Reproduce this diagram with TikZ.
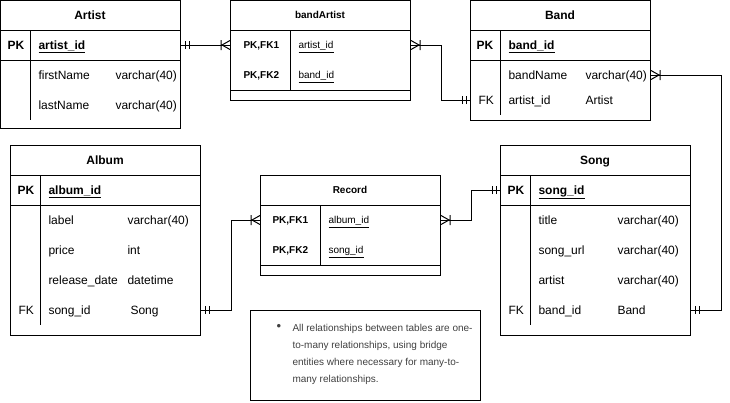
\documentclass[tikz,border=0pt]{standalone}
\usepackage{fontspec}
\setmainfont{Liberation Sans}
\tikzset{
  entity/.style={draw, anchor=north west, inner sep=0pt},
  head/.style={inner sep=0pt, text height=10pt, text depth=2pt, font=\fontsize{12}{14}\selectfont\bfseries},
  smallhead/.style={inner sep=0pt, text height=8.5pt, text depth=1.5pt, font=\fontsize{10}{12}\selectfont\bfseries},
  field/.style={anchor=west, inner sep=0pt, text height=10pt, text depth=2pt, font=\fontsize{12}{14}\selectfont},
  smallfield/.style={field, text height=8.5pt, text depth=1.5pt, font=\fontsize{10}{12}\selectfont},
  pics/erone/.style={code={\draw (4,-4) -- (4,4) (8,-4) -- (8,4);}},
  pics/ermany/.style={code={\draw (9,-5) -- (9,5) (0,-4.5) -- (8,0) -- (0,4.5);}}
}
\begin{document}
\begin{tikzpicture}[x=1pt, y=-1pt, line width=1pt]
    \useasboundingbox (0,0) rectangle (730,402);
    % Artist
    \node[entity, minimum width=180pt, minimum height=128pt] (artist) at (0,0) {};
    \node[head] (artistt) at (90,15) {Artist};
    \draw (0,30) -- (180,30) (0,60) -- (180,60) (30,30) -- (30,120);
    \node[field] (apk) at (7,45) {\bfseries PK};
    \node[field] (aid) at (38,45) {\bfseries\underline{artist\_id}};
    \node[field] (afirst) at (38,75) {firstName};
    \node[field] (afirstt) at (115,75) {varchar(40)};
    \node[field] (alast) at (38,105) {lastName};
    \node[field] (alastt) at (115,105) {varchar(40)};
    % bandArtist
    \node[entity, minimum width=180pt, minimum height=100pt] (bandartist) at (230,0) {};
    \node[smallhead] (bandartistt) at (320,15) {bandArtist};
    \draw (230,30) -- (410,30) (230,90) -- (410,90) (290,30) -- (290,90);
    \node[smallfield] (bapk1) at (243,45) {\bfseries PK,FK1};
    \node[smallfield] (baaid) at (298,45) {\underline{artist\_id}};
    \node[smallfield] (bapk2) at (243,75) {\bfseries PK,FK2};
    \node[smallfield] (babid) at (298,75) {\underline{band\_id}};
    % Band
    \node[entity, minimum width=180pt, minimum height=120pt] (band) at (470,0) {};
    \node[head] (bandt) at (560,15) {Band};
    \draw (470,30) -- (650,30) (470,60) -- (650,60) (500,30) -- (500,115);
    \node[field] (bpk) at (476,45) {\bfseries PK};
    \node[field] (bid) at (508,45) {\bfseries\underline{band\_id}};
    \node[field] (bname) at (508,75) {bandName};
    \node[field] (bnamet) at (585,75) {varchar(40)};
    \node[field] (bfk) at (478,100) {FK};
    \node[field] (bartid) at (508,100) {artist\_id};
    \node[field] (bartidt) at (585,100) {Artist};
    % Album
    \node[entity, minimum width=190pt, minimum height=190pt] (album) at (10,145) {};
    \node[head] (albumt) at (105,160) {Album};
    \draw (10,175) -- (200,175) (10,205) -- (200,205) (40,175) -- (40,325);
    \node[field] (alpk) at (17,190) {\bfseries PK};
    \node[field] (alid) at (48,190) {\bfseries\underline{album\_id}};
    \node[field] (allabel) at (48,220) {label};
    \node[field] (allabelt) at (127,220) {varchar(40)};
    \node[field] (alprice) at (48,250) {price};
    \node[field] (alpricet) at (127,250) {int};
    \node[field] (aldate) at (48,280) {release\_date};
    \node[field] (aldatet) at (127,280) {datetime};
    \node[field] (alfk) at (18,310) {FK};
    \node[field] (alsong) at (48,310) {song\_id};
    \node[field] (alsongt) at (130,310) {Song};
    % Record
    \node[entity, minimum width=180pt, minimum height=100pt] (record) at (260,175) {};
    \node[smallhead] (recordt) at (350,190) {Record};
    \draw (260,205) -- (440,205) (260,265) -- (440,265) (320,205) -- (320,265);
    \node[smallfield] (rpk1) at (272,220) {\bfseries PK,FK1};
    \node[smallfield] (ralb) at (328,220) {\underline{album\_id}};
    \node[smallfield] (rpk2) at (272,250) {\bfseries PK,FK2};
    \node[smallfield] (rsong) at (328,250) {\underline{song\_id}};
    % Song
    \node[entity, minimum width=190pt, minimum height=190pt] (song) at (500,145) {};
    \node[head] (songt) at (595,160) {Song};
    \draw (500,175) -- (690,175) (500,205) -- (690,205) (530,175) -- (530,325);
    \node[field] (spk) at (507,190) {\bfseries PK};
    \node[field] (ssid) at (538,190) {\bfseries\underline{song\_id}};
    \node[field] (stitle) at (538,220) {title};
    \node[field] (stitlet) at (617,220) {varchar(40)};
    \node[field] (surl) at (538,250) {song\_url};
    \node[field] (surlt) at (617,250) {varchar(40)};
    \node[field] (sartist) at (538,280) {artist};
    \node[field] (sartistt) at (617,280) {varchar(40)};
    \node[field] (sfk) at (508,310) {FK};
    \node[field] (sband) at (538,310) {band\_id};
    \node[field] (sbandt) at (617,310) {Band};
    % note
    \node[entity, minimum width=230pt, minimum height=90pt] (note) at (250,310) {};
    \node[inner sep=0pt, text=black!75, font=\fontsize{13}{13}\selectfont] (notebullet) at (279,327) {•};
    \node[anchor=north west, inner sep=0pt, align=left, text=black!75, font=\fontsize{10}{17}\selectfont] (notetext) at (292,324)
        {All relationships between tables are one-\\to-many relationships, using bridge\\entities where necessary for many-to-\\many relationships.};
    % relationships
    \draw (artist.east |- aid) -- (bandartist.west |- baaid);
    \pic at (artist.east |- aid) {erone};
    \pic[rotate=180] at (bandartist.west |- baaid) {ermany};
    \draw (bandartist.east |- baaid) -- ++(30,0) |- (band.west |- bartid);
    \pic at (bandartist.east |- baaid) {ermany};
    \pic[rotate=180] at (band.west |- bartid) {erone};
    \draw (album.east |- alsong) -- ++(30,0) |- (record.west |- ralb);
    \pic at (album.east |- alsong) {erone};
    \pic[rotate=180] at (record.west |- ralb) {ermany};
    \draw (record.east |- ralb) -- ++(30,0) |- (song.west |- ssid);
    \pic at (record.east |- ralb) {ermany};
    \pic[rotate=180] at (song.west |- ssid) {erone};
    \draw (song.east |- sband) -- ++(30,0) |- (band.east |- bname);
    \pic at (song.east |- sband) {erone};
    \pic at (band.east |- bname) {ermany};
\end{tikzpicture}
\end{document}
